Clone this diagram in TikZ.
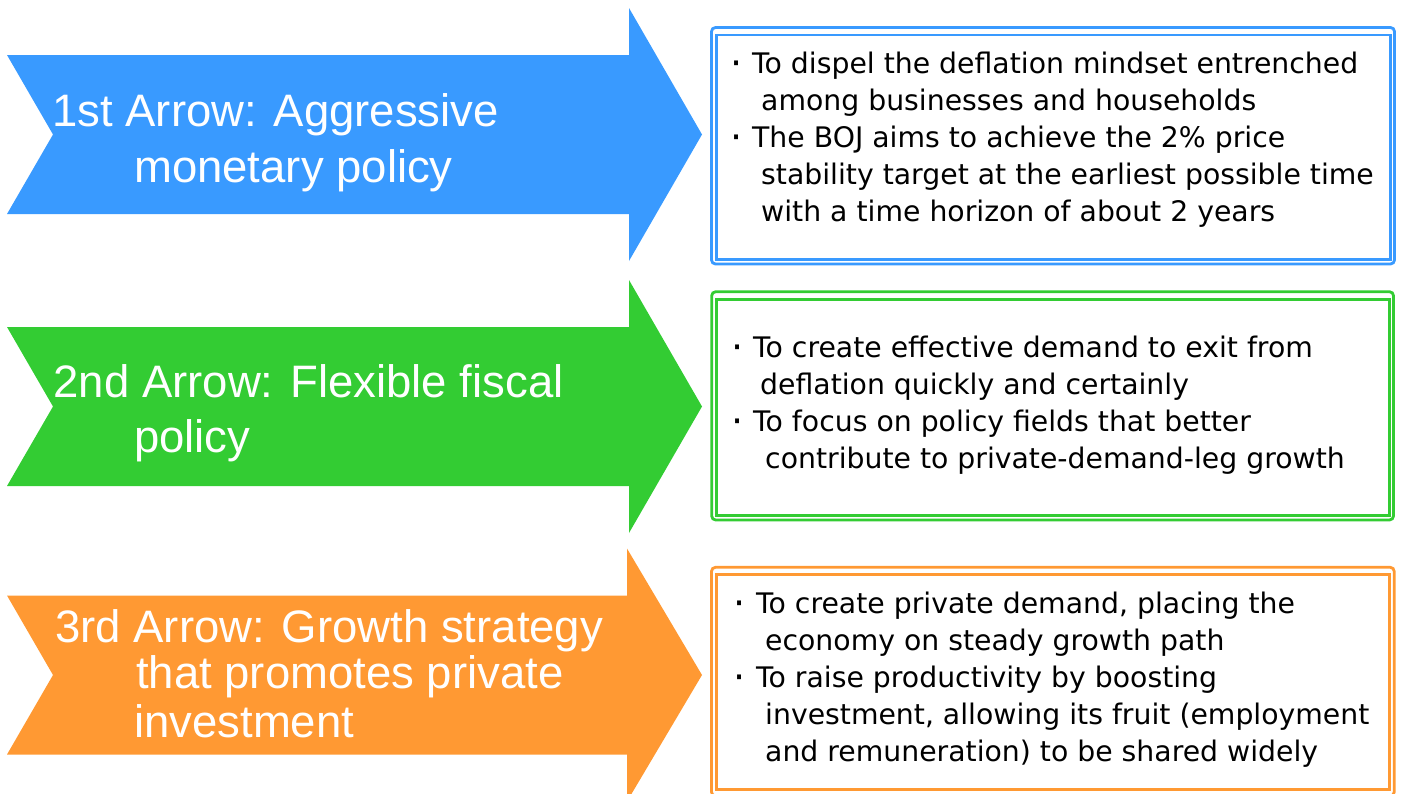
\documentclass[tikz,border=0pt]{standalone}
\usepackage{fontspec}
\setmainfont{Liberation Sans}
\newfontfamily\boxfont{DejaVu Sans}
\definecolor{ablue}{RGB}{57,154,255}
\definecolor{agreen}{RGB}{51,204,51}
\definecolor{aorange}{RGB}{255,153,51}
\newcommand{\bdot}[1]{\makebox[#1][l]{\hspace{-1pt}\raisebox{-2.5pt}{\fontsize{38}{38}\selectfont·}}}
\tikzset{
  arrowlabel/.style={anchor=base west, inner sep=0pt, text=white, font=\fontsize{45.5}{50}\selectfont},
  boxline/.style={anchor=base west, inner sep=0pt, text=black, font=\boxfont\fontsize{28.3}{34}\selectfont},
  frameout/.style={line width=2.8pt, rounded corners=4pt},
  framein/.style={line width=2.6pt},
}
\begin{document}
\begin{tikzpicture}[x=1pt,y=-1pt]
\useasboundingbox (0,0) rectangle (1401,793);
\clip (0,0) rectangle (1401,793);
% arrows
\fill[ablue] (7,55) -- (629,55) -- (629,8) -- (702,134.5) -- (629,261) -- (629,214) -- (7,214) -- (53,134.5) -- cycle;
\fill[agreen] (7,327) -- (629,327) -- (629,280) -- (702,406.5) -- (629,533) -- (629,486) -- (7,486) -- (53,406.5) -- cycle;
\fill[aorange] (7,595.5) -- (627,595.5) -- (627,548.5) -- (702,675) -- (627,801.5) -- (627,754.5) -- (7,754.5) -- (53,675) -- cycle;
% arrow labels
\node[arrowlabel] (a1l1) at (52,126) {1st Arrow: Aggressive};
\node[arrowlabel] (a1l2) at (134,182) {monetary policy};
\node[arrowlabel] (a2l1) at (53.5,397) {2nd Arrow: Flexible fiscal};
\node[arrowlabel] (a2l2) at (134,452) {policy};
\node[arrowlabel] (a3l1) at (55,642) {3rd Arrow: Growth strategy};
\node[arrowlabel] (a3l2) at (136,688) {that promotes private};
\node[arrowlabel] (a3l3) at (134,737) {investment};
% boxes
\draw[ablue, frameout] (711.5,27.5) rectangle (1394.5,264);
\draw[ablue, framein] (716.7,35) rectangle (1390.3,259.3);
\draw[agreen, frameout] (711.7,291.7) rectangle (1393.5,520);
\draw[agreen, framein] (716.7,299.3) rectangle (1389.5,515.5);
\draw[aorange, frameout] (711.5,567.3) rectangle (1394.2,796);
\draw[aorange, framein] (716.7,574.3) rectangle (1389.7,789.3);
% box 1 text
\node[boxline] (b1a) at (731.5,73.5) {\bdot{20.5pt}To dispel the deflation mindset entrenched};
\node[boxline] (b1b) at (761,110.5) {among businesses and households};
\node[boxline] (b1c) at (731.5,147.5) {\bdot{20.5pt}The BOJ aims to achieve the 2\% price};
\node[boxline] (b1d) at (761,184.5) {stability target at the earliest possible time};
\node[boxline] (b1e) at (761,221.5) {with a time horizon of about 2 years};
% box 2 text
\node[boxline] (b2a) at (732.5,357.5) {\bdot{20.5pt}To create effective demand to exit from};
\node[boxline] (b2b) at (760,394.5) {deflation quickly and certainly};
\node[boxline] (b2c) at (732.5,431.5) {\bdot{20.5pt}To focus on policy fields that better};
\node[boxline] (b2d) at (765,468.5) {contribute to private-demand-leg growth};
% box 3 text
\node[boxline] (b3a) at (734.5,613.5) {\bdot{21.5pt}To create private demand, placing the};
\node[boxline] (b3b) at (765,650.5) {economy on steady growth path};
\node[boxline] (b3c) at (734.5,687.5) {\bdot{21.5pt}To raise productivity by boosting};
\node[boxline] (b3d) at (765,724.5) {investment, allowing its fruit (employment};
\node[boxline] (b3e) at (765,761.5) {and remuneration) to be shared widely};
\end{tikzpicture}
\end{document}
